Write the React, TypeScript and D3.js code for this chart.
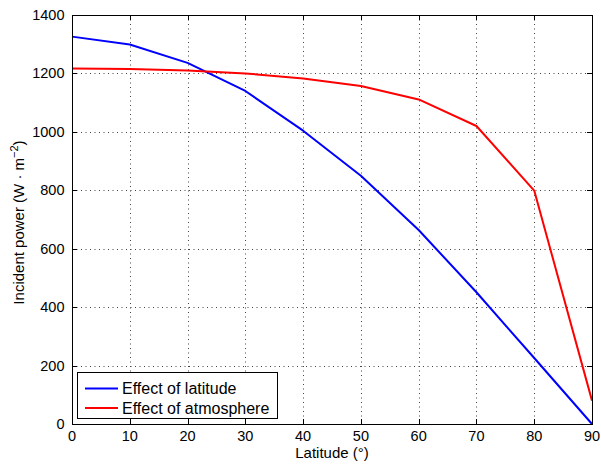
import React, { useRef, useEffect } from "react";
import * as d3 from "d3";

// chart values
const latitudes = [0, 10, 20, 30, 40, 50, 60, 70, 80, 90];
const latitudeEffect = [1326, 1299, 1236, 1140, 1004, 850, 664, 451, 226, 0];
const atmosphereEffect = [1217, 1215, 1210, 1200, 1183, 1157, 1111, 1020, 799, 80];
const xTicks = [0, 10, 20, 30, 40, 50, 60, 70, 80, 90];
const yTicks = [0, 200, 400, 600, 800, 1000, 1200, 1400];
const seriesNames = ["Effect of latitude", "Effect of atmosphere"];
const seriesColors = ["#0000ff", "#ff0000"];

const W = 601;
const H = 465;
const FONT = "'Liberation Sans', Arial, Helvetica, sans-serif";

export default function App() {
  const ref = useRef<SVGSVGElement>(null);

  useEffect(() => {
    const svg = d3.select(ref.current);
    svg.selectAll("*").remove();

    const left = 72, right = 592, top = 15, bottom = 424;

    const x = d3.scaleLinear().domain([0, 90]).range([left, right]);
    const y = d3.scaleLinear().domain([0, 1400]).range([bottom, top]);

    svg.append("rect").attr("width", W).attr("height", H).attr("fill", "#fff");

    // dotted grid
    const grid = svg.append("g").attr("stroke", "#444").attr("stroke-width", 1)
      .attr("stroke-dasharray", "1,3.5");
    grid.selectAll(".gx").data(xTicks.slice(1, -1)).enter().append("line")
      .attr("x1", (d) => Math.round(x(d)) + 0.5).attr("x2", (d) => Math.round(x(d)) + 0.5)
      .attr("y1", top).attr("y2", bottom);
    grid.selectAll(".gy").data(yTicks.slice(1, -1)).enter().append("line")
      .attr("y1", (d) => Math.round(y(d)) + 0.5).attr("y2", (d) => Math.round(y(d)) + 0.5)
      .attr("x1", left).attr("x2", right);

    // ticks, inward on all four sides
    const tk = svg.append("g").attr("stroke", "#000").attr("stroke-width", 1);
    xTicks.forEach((t) => {
      const px = Math.round(x(t)) + 0.5;
      tk.append("line").attr("x1", px).attr("x2", px).attr("y1", bottom).attr("y2", bottom - 5);
      tk.append("line").attr("x1", px).attr("x2", px).attr("y1", top).attr("y2", top + 5);
    });
    yTicks.forEach((t) => {
      const py = Math.round(y(t)) + 0.5;
      tk.append("line").attr("y1", py).attr("y2", py).attr("x1", left).attr("x2", left + 5);
      tk.append("line").attr("y1", py).attr("y2", py).attr("x1", right).attr("x2", right - 5);
    });

    // series
    const seriesData = [latitudeEffect, atmosphereEffect];
    const line = d3.line<number>().x((d, i) => x(latitudes[i])).y((d) => y(d));
    seriesData.forEach((vals, k) => {
      svg.append("path").attr("d", line(vals)).attr("fill", "none")
        .attr("stroke", seriesColors[k]).attr("stroke-width", 2)
        .attr("stroke-linejoin", "round");
    });

    // axes box
    svg.append("rect").attr("x", left + 0.5).attr("y", top + 0.5)
      .attr("width", right - left).attr("height", bottom - top)
      .attr("fill", "none").attr("stroke", "#000").attr("stroke-width", 1);

    // tick labels
    svg.selectAll(".xl").data(xTicks).enter().append("text")
      .attr("x", (d) => x(d)).attr("y", 440.5).attr("text-anchor", "middle")
      .attr("font-family", FONT).attr("font-size", 14.5).text((d) => d);
    svg.selectAll(".yl").data(yTicks).enter().append("text")
      .attr("x", 64.5).attr("y", (d) => y(d) + 5).attr("text-anchor", "end")
      .attr("font-family", FONT).attr("font-size", 14.5).text((d) => d);

    // axis labels
    svg.append("text").attr("x", (left + right) / 2).attr("y", 457.5)
      .attr("text-anchor", "middle").attr("font-family", FONT).attr("font-size", 15)
      .text("Latitude (°)");
    const yl = svg.append("text")
      .attr("transform", `translate(24,${(top + bottom) / 2 + 3}) rotate(-90)`)
      .attr("text-anchor", "middle").attr("font-family", FONT).attr("font-size", 15);
    yl.append("tspan").text("Incident power (W · m");
    yl.append("tspan").attr("dy", -6).attr("font-size", 11).text("−2");
    yl.append("tspan").attr("dy", 6).text(")");

    // legend
    const lg = svg.append("g");
    lg.append("rect").attr("x", 77.5).attr("y", 372.5).attr("width", 200).attr("height", 46)
      .attr("fill", "#fff").attr("stroke", "#000").attr("stroke-width", 1);
    seriesNames.forEach((name, k) => {
      const cy = 388.5 + k * 19.5;
      lg.append("line").attr("x1", 85).attr("x2", 118).attr("y1", cy).attr("y2", cy)
        .attr("stroke", seriesColors[k]).attr("stroke-width", 2);
      lg.append("text").attr("x", 122).attr("y", cy + 5.5).attr("font-family", FONT)
        .attr("font-size", 16).text(name);
    });
  }, []);

  return (
    <div style={{ position: "absolute", left: 0, top: 0 }}>
      <svg ref={ref} width={W} height={H} style={{ display: "block" }}></svg>
    </div>
  );
}
